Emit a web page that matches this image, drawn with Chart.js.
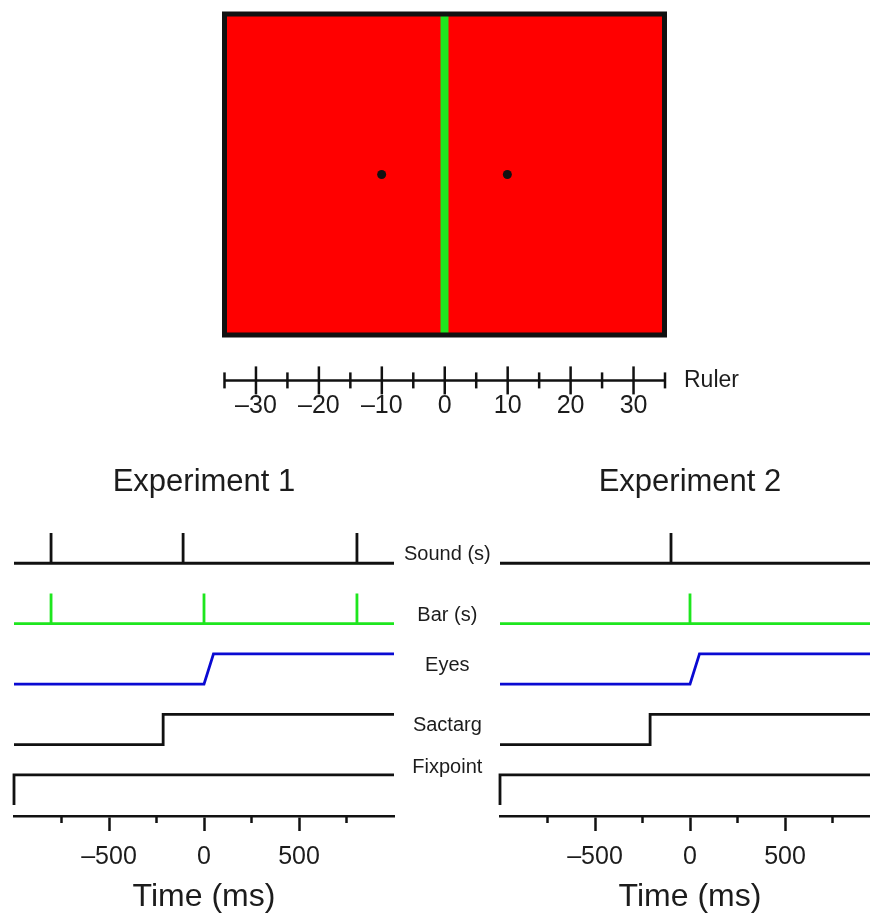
<!DOCTYPE html>
<html>
<head>
<meta charset="utf-8">
<title>Stimulus layout and event timing</title>
<script src="https://cdn.jsdelivr.net/npm/chart.js@4.4.1/dist/chart.umd.min.js"></script>
<style>
  html, body { margin: 0; padding: 0; background: #fff; overflow: hidden; }
  #page { position: relative; width: 870px; height: 918px; overflow: hidden; }
  canvas { position: absolute; }
</style>
</head>
<body>
<div id="page">
  <canvas id="field" width="870" height="350" style="left:0;top:0"></canvas>
  <canvas id="ruler" width="870" height="100" style="left:0;top:340px"></canvas>
  <canvas id="exp1" width="510" height="478" style="left:0;top:440px"></canvas>
  <canvas id="exp2" width="400" height="478" style="left:494px;top:440px"></canvas>
</div>
<script>
/* ============================================================
   DATA
   ============================================================ */

// stimulus field, degrees
const FIELD_X  = [-35, 35];
const FIELD_Y  = [-1, 1];
const BAR_POS  = 0;
const SPOT_POS = [-10, 10];

// ruler
const RULER_MAJOR = [-30, -20, -10, 0, 10, 20, 30];
const RULER_MINOR = [-35, -25, -15, -5, 5, 15, 25, 35];

// time axis, ms
const TIME_RANGE = [-1000, 1000];
const TIME_MAJOR = [-500, 0, 500];
const TIME_MINOR = [-750, -250, 250, 750];

// rows of the timing diagram (top to bottom)
const ROWS     = ['Sound (s)', 'Bar (s)', 'Eyes', 'Sactarg', 'Fixpoint'];
const ROW_BASE = [8, 6, 4, 2, 0];

// experiment 1
const SOUND_1    = [-805, -110, 805];
const BAR_1      = [-805, 0, 805];
const EYES_1     = [0, 50];     // saccade start, end
const SACTARG_1  = -215;
const FIXPOINT_1 = -1000;

// experiment 2
const SOUND_2    = [-100];
const BAR_2      = [0];
const EYES_2     = [0, 50];
const SACTARG_2  = -210;
const FIXPOINT_2 = -1000;

/* ============================================================
   STYLE / LAYOUT
   ============================================================ */

const INK   = '#111111';
const TEXT  = '#1c1c1c';
const RED   = '#ff0000';
const GREEN = '#1ee61e';
const BLUE  = '#0a0ad2';
const Y_RANGE = [-0.36, 9.1];
const LABEL_Y = [8.3, 6.28, 4.62, 2.64, 1.26];

Chart.defaults.font.family = "'Liberation Sans', Arial, Helvetica, sans-serif";
Chart.defaults.color = TEXT;

const minus = v => v < 0 ? '\u2013' + Math.abs(v) : String(v);
const pt = (x, y) => ({ x, y });

const baseOptions = () => ({
  responsive: false,
  animation: false,
  events: [],
  plugins: { legend: { display: false }, tooltip: { enabled: false }, title: { display: false } },
  elements: { point: { radius: 0, hoverRadius: 0 }, line: { tension: 0 } },
});

/* ============================================================
   STIMULUS FIELD
   ============================================================ */

function renderField() {
  const [x0, x1] = FIELD_X, [y0, y1] = FIELD_Y;
  const opts = baseOptions();
  opts.layout = { padding: { left: 224.5, right: 205.5, top: 14, bottom: 15 } };
  opts.scales = {
    x: { type: 'linear', min: x0, max: x1, display: false },
    y: { type: 'linear', min: y0, max: y1, display: false },
  };
  new Chart('field', {
    type: 'line',
    data: {
      datasets: [
        { data: [pt(x0, y0), pt(x0, y1), pt(x1, y1), pt(x1, y0), pt(x0, y0)],
          borderColor: INK, borderWidth: 5, borderJoinStyle: 'miter', borderCapStyle: 'square',
          fill: false, clip: false, order: 0 },
        { type: 'scatter', data: SPOT_POS.map(x => pt(x, 0)),
          pointRadius: 4.5, backgroundColor: INK, borderWidth: 0, order: 1 },
        { data: [pt(BAR_POS, y0), pt(BAR_POS, y1)],
          borderColor: GREEN, borderWidth: 8, borderCapStyle: 'butt', fill: false, order: 2 },
        { data: [pt(x0, y1), pt(x1, y1)],
          borderWidth: 0, backgroundColor: RED, fill: 'start', order: 3 },
      ],
    },
    options: opts,
  });
}

/* ============================================================
   RULER
   ============================================================ */

function renderRuler() {
  const opts = baseOptions();
  opts.layout = { padding: { left: 224.5, right: 105, top: 20, bottom: 12 } };
  opts.scales = {
    x: {
      type: 'linear', min: FIELD_X[0], max: FIELD_X[1], position: 'bottom',
      afterBuildTicks: s => { s.ticks = RULER_MAJOR.map(v => ({ value: v })); },
      afterFit: s => { s.height = 40; },
      grid: { display: false, drawTicks: false },
      border: { display: false },
      ticks: { padding: 3, font: { size: 25 }, maxRotation: 0, autoSkip: false, callback: minus },
    },
    y: { type: 'linear', min: -1, max: 1, display: false },
    yName: {
      type: 'linear', min: -1, max: 1, position: 'right',
      afterBuildTicks: s => { s.ticks = [{ value: 0 }]; },
      afterFit: s => { s.width = 100; },
      grid: { display: false, drawTicks: false },
      border: { display: false },
      ticks: { padding: 19, font: { size: 23 }, callback: () => 'Ruler' },
    },
  };
  const tick = (xs, r) => ({
    type: 'scatter', data: xs.map(x => pt(x, 0)),
    pointStyle: 'line', rotation: 90, pointRadius: r,
    borderColor: INK, borderWidth: 2.5, clip: false,
  });
  new Chart('ruler', {
    type: 'line',
    data: {
      datasets: [
        { data: [pt(RULER_MINOR[0], 0), pt(RULER_MINOR[RULER_MINOR.length - 1], 0)],
          borderColor: INK, borderWidth: 2.5, fill: false },
        tick(RULER_MAJOR, 14),
        tick(RULER_MINOR, 8),
      ],
    },
    options: opts,
  });
}

/* ============================================================
   TIMING DIAGRAMS
   ============================================================ */

function pulses(events, base) {
  const pts = [pt(TIME_RANGE[0], base)];
  events.forEach(t => pts.push(pt(t, base), pt(t, base + 1), pt(t, base)));
  pts.push(pt(TIME_RANGE[1], base));
  return pts;
}

function stepUp(onset, base) {
  return [pt(TIME_RANGE[0], base), pt(onset, base), pt(onset, base + 1), pt(TIME_RANGE[1], base + 1)];
}

function ramp([t0, t1], base) {
  return [pt(TIME_RANGE[0], base), pt(t0, base), pt(t1, base + 1), pt(TIME_RANGE[1], base + 1)];
}

function renderTiming(id, title, ex, withNames, padLeft, padRight) {
  const trace = (data, color) => ({
    data, borderColor: color, borderWidth: 2.8, fill: false, clip: false,
    borderJoinStyle: 'miter', borderCapStyle: 'butt',
  });
  const opts = baseOptions();
  opts.layout = { padding: { left: padLeft, right: padRight, top: 0, bottom: 2 } };
  opts.plugins.title = {
    display: true, text: title, fullSize: false, color: TEXT,
    font: { size: 31, weight: 'normal' }, padding: { top: 23.4, bottom: 29.4 },
  };
  opts.scales = {
    x: {
      type: 'linear', min: TIME_RANGE[0], max: TIME_RANGE[1], position: 'bottom',
      afterBuildTicks: s => { s.ticks = TIME_MAJOR.map(v => ({ value: v })); },
      afterFit: s => { s.height = 100; },
      grid: { drawOnChartArea: false, tickLength: 15, tickWidth: 2.5, tickColor: INK },
      border: { color: INK, width: 2.5 },
      ticks: { padding: 11, font: { size: 25 }, maxRotation: 0, autoSkip: false, callback: minus },
      title: { display: true, text: 'Time (ms)', color: TEXT, font: { size: 32 }, padding: { top: 6, bottom: 0 } },
    },
    xMinor: {
      type: 'linear', min: TIME_RANGE[0], max: TIME_RANGE[1], position: { y: Y_RANGE[0] },
      afterBuildTicks: s => { s.ticks = TIME_MINOR.map(v => ({ value: v })); },
      grid: { drawOnChartArea: false, tickLength: 7, tickWidth: 2.5, tickColor: INK },
      border: { display: false },
      ticks: { display: false },
    },
    y: { type: 'linear', min: Y_RANGE[0], max: Y_RANGE[1], display: false },
  };
  if (withNames) {
    opts.scales.yNames = {
      type: 'linear', min: Y_RANGE[0], max: Y_RANGE[1], position: 'right',
      afterBuildTicks: s => { s.ticks = LABEL_Y.map(v => ({ value: v })); },
      afterFit: s => { s.width = 110; },
      grid: { display: false, drawTicks: false },
      border: { display: false },
      ticks: { crossAlign: 'center', padding: 10, font: { size: 20 }, autoSkip: false,
               callback: (v, i) => ROWS[i] },
    };
  }
  new Chart(id, {
    type: 'line',
    data: {
      datasets: [
        trace(pulses(ex.sound, ROW_BASE[0]), INK),
        trace(pulses(ex.bar, ROW_BASE[1]), GREEN),
        trace(ramp(ex.eyes, ROW_BASE[2]), BLUE),
        trace(stepUp(ex.sactarg, ROW_BASE[3]), INK),
        trace(stepUp(ex.fixpoint, ROW_BASE[4]), INK),
      ],
    },
    options: opts,
  });
}

renderField();
renderRuler();
renderTiming('exp1', 'Experiment 1',
  { sound: SOUND_1, bar: BAR_1, eyes: EYES_1, sactarg: SACTARG_1, fixpoint: FIXPOINT_1 }, true, 14, 6);
renderTiming('exp2', 'Experiment 2',
  { sound: SOUND_2, bar: BAR_2, eyes: EYES_2, sactarg: SACTARG_2, fixpoint: FIXPOINT_2 }, false, 6, 14);
</script>
</body>
</html>
